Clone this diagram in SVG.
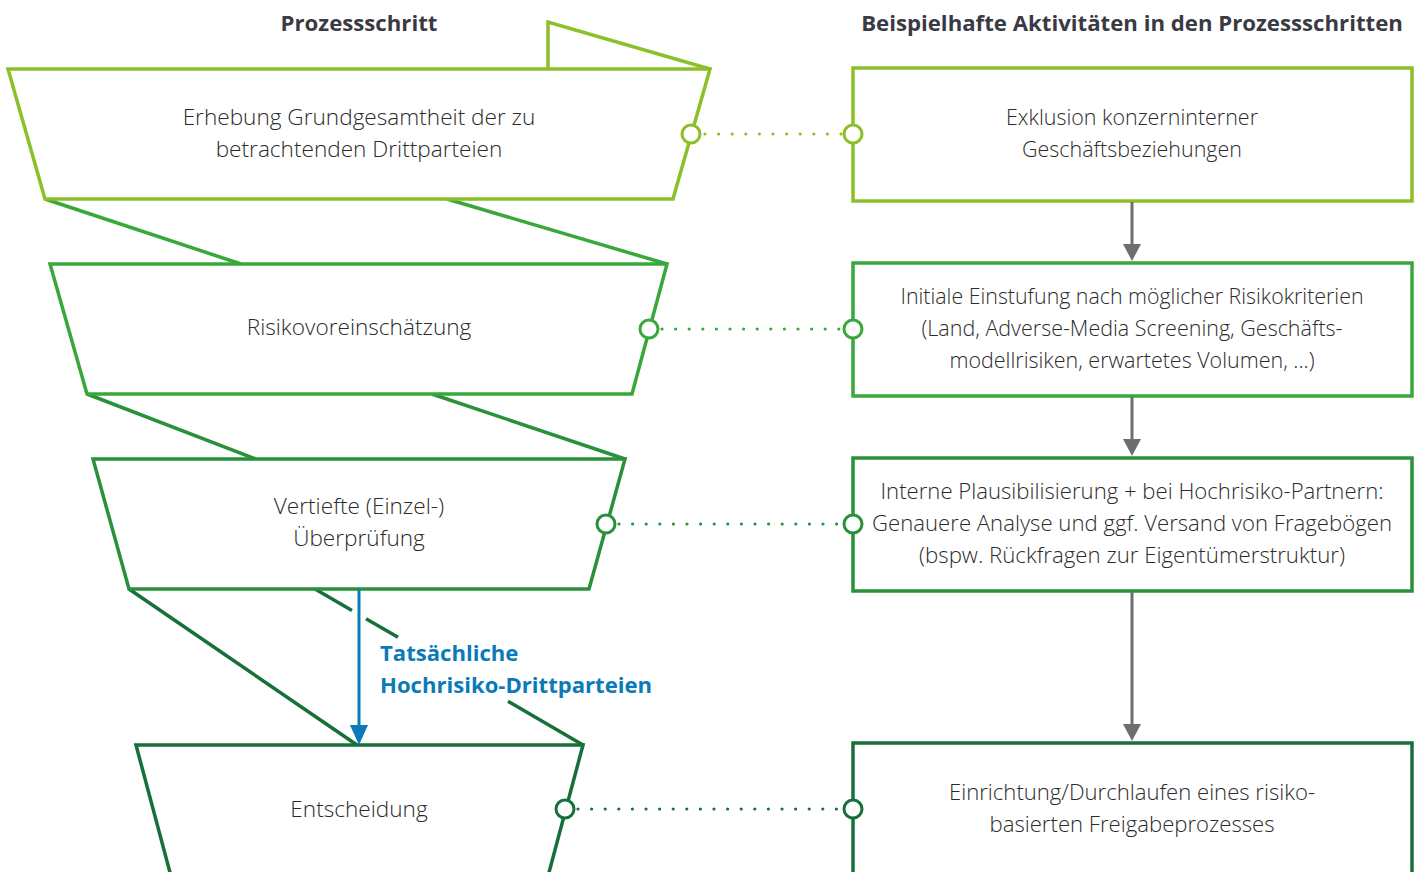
<svg xmlns="http://www.w3.org/2000/svg" width="1422" height="872" viewBox="0 0 1422 872">
<defs>
<style>
.t{font-family:"Open Sans","Liberation Sans",sans-serif;font-weight:300;font-size:22.6px;fill:#2b2b2b;text-anchor:middle}
.r{font-size:21.9px}
.h{font-family:"Open Sans","Liberation Sans",sans-serif;font-weight:700;font-size:22.2px;fill:#3a3a44;text-anchor:middle}
.bl{font-family:"Open Sans","Liberation Sans",sans-serif;font-weight:700;font-size:22.1px;fill:#0a7bb8}
.s{fill:#fff;stroke-width:3.5;stroke-linejoin:miter}
.l{fill:none;stroke-width:3.5}
.c{fill:#fff;stroke-width:3}
.d{fill:none;stroke-width:3.2;stroke-linecap:round;stroke-dasharray:0 13.6}
.g1{stroke:#8cc02a}.g2{stroke:#38a83b}.g3{stroke:#2a913b}.g4{stroke:#17703a}
.ga{stroke:#6d6e71;stroke-width:3}
.ah{fill:#6d6e71}
</style>
</defs>

<text class="h" x="359" y="31">Prozessschritt</text>
<text class="h" x="1132" y="31">Beispielhafte Aktivitäten in den Prozessschritten</text>

<g id="funnel-links">
<path class="l g2" d="M45,199 L241,264 M447,199 L667,264"/>
<path class="l g3" d="M87,394 L256,459 M432,394 L625,459"/>
<path class="l g4" d="M129,589 L357,745 M315,589 L352,610.5 M366,618.7 L398,637.3 M508,701.3 L583,745"/>
</g>

<g id="step1">
<path class="l g1" d="M548,69 L548,22 L710,69"/>
<polygon class="s g1" points="8,69 710,69 673,199 45,199"/>
<text class="t" x="359" y="125">Erhebung Grundgesamtheit der zu</text>
<text class="t" x="359" y="157">betrachtenden Drittparteien</text>
</g>

<g id="step2">
<polygon class="s g2" points="50,264 667,264 632,394 87,394"/>
<text class="t" x="359" y="335">Risikovoreinschätzung</text>
</g>

<g id="step3">
<polygon class="s g3" points="93,459 625,459 589,589 129,589"/>
<text class="t" x="359" y="514">Vertiefte (Einzel-)</text>
<text class="t" x="359" y="546">Überprüfung</text>
</g>

<g id="step4">
<polygon class="s g4" points="136,745 583,745 547,880 172,880"/>
<text class="t" x="359" y="817">Entscheidung</text>
</g>

<g id="act1">
<rect class="s g1" x="853" y="68" width="559" height="133"/>
<text class="t r" x="1132" y="125" textLength="252" lengthAdjust="spacingAndGlyphs">Exklusion konzerninterner</text>
<text class="t r" x="1132" y="157" textLength="220" lengthAdjust="spacingAndGlyphs">Geschäftsbeziehungen</text>
</g>

<g id="act2">
<rect class="s g2" x="853" y="263" width="559" height="133"/>
<text class="t r" x="1132" y="304" textLength="463" lengthAdjust="spacingAndGlyphs">Initiale Einstufung nach möglicher Risikokriterien</text>
<text class="t r" x="1132" y="336" textLength="421" lengthAdjust="spacingAndGlyphs">(Land, Adverse-Media Screening, Geschäfts-</text>
<text class="t r" x="1132" y="368" textLength="365" lengthAdjust="spacingAndGlyphs">modellrisiken, erwartetes Volumen, ...)</text>
</g>

<g id="act3">
<rect class="s g3" x="853" y="458" width="559" height="133"/>
<text class="t r" x="1132" y="499" textLength="503" lengthAdjust="spacingAndGlyphs">Interne Plausibilisierung + bei Hochrisiko-Partnern:</text>
<text class="t r" x="1132" y="531" textLength="520" lengthAdjust="spacingAndGlyphs">Genauere Analyse und ggf. Versand von Fragebögen</text>
<text class="t r" x="1132" y="563" textLength="426" lengthAdjust="spacingAndGlyphs">(bspw. Rückfragen zur Eigentümerstruktur)</text>
</g>

<g id="act4">
<rect class="s g4" x="853" y="743" width="559" height="150"/>
<text class="t r" x="1132" y="800" textLength="366" lengthAdjust="spacingAndGlyphs">Einrichtung/Durchlaufen eines risiko-</text>
<text class="t r" x="1132" y="832" textLength="285" lengthAdjust="spacingAndGlyphs">basierten Freigabeprozesses</text>
</g>

<g id="connectors">
<line class="ga" x1="1132" y1="202" x2="1132" y2="245"/>
<path class="ah" d="M1123,244 L1141,244 L1132,261 Z"/>
<line class="ga" x1="1132" y1="397" x2="1132" y2="440"/>
<path class="ah" d="M1123,439 L1141,439 L1132,456 Z"/>
<line class="ga" x1="1132" y1="592" x2="1132" y2="725"/>
<path class="ah" d="M1123,724 L1141,724 L1132,741 Z"/>

<line x1="359" y1="589" x2="359" y2="727" stroke="#0a7bb8" stroke-width="3"/>
<path d="M350,725 L368,725 L359,745 Z" fill="#0a7bb8"/>

<line class="d g1" x1="705" y1="134" x2="843" y2="134"/>
<line class="d g2" x1="662" y1="329" x2="843" y2="329"/>
<line class="d g3" x1="619" y1="524" x2="843" y2="524"/>
<line class="d g4" x1="578" y1="809" x2="843" y2="809"/>

<circle class="c g1" cx="691" cy="134" r="9"/>
<circle class="c g1" cx="853" cy="134" r="9"/>
<circle class="c g2" cx="649" cy="329" r="9"/>
<circle class="c g2" cx="853" cy="329" r="9"/>
<circle class="c g3" cx="606" cy="524" r="9"/>
<circle class="c g3" cx="853" cy="524" r="9"/>
<circle class="c g4" cx="565" cy="809" r="9"/>
<circle class="c g4" cx="853" cy="809" r="9"/>
</g>

<text class="bl" x="380" y="661">Tatsächliche</text>
<text class="bl" x="380" y="693">Hochrisiko-Drittparteien</text>
</svg>
